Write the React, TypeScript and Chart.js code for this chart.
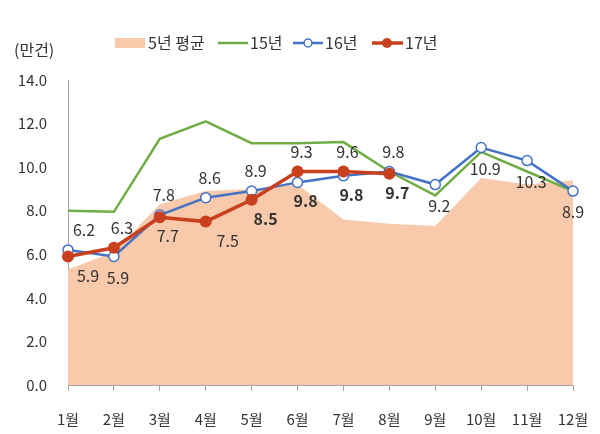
import React, { useRef, useEffect } from 'react';
import Chart from 'chart.js/auto';

const months = ['1월', '2월', '3월', '4월', '5월', '6월', '7월', '8월', '9월', '10월', '11월', '12월'];
const avg5 = [5.3, 6.1, 8.3, 8.9, 9.0, 9.2, 7.6, 7.4, 7.3, 9.5, 9.2, 9.4];
const y15 = [8.0, 7.95, 11.3, 12.1, 11.1, 11.1, 11.15, 9.8, 8.7, 10.7, 9.8, 8.9];
const y16 = [6.2, 5.9, 7.8, 8.6, 8.9, 9.3, 9.6, 9.8, 9.2, 10.9, 10.3, 8.9];
const y17 = [5.9, 6.3, 7.7, 7.5, 8.5, 9.8, 9.8, 9.7, null, null, null, null];
const seriesNames = ['5년 평균', '15년', '16년', '17년'];
const yTicks = [0, 2, 4, 6, 8, 10, 12, 14];
const unitLabel = '(만건)';

// label placement (style only)
const bluePos = ['top', 'bottom', 'top', 'top', 'top', 'top', 'top', 'top', 'bottom', 'bottom', 'bottom', 'bottom'];
const redPos = ['bottom', 'top', 'bottom', 'bottom', 'bottom', 'bottom', 'bottom', 'bottom'];
const redBold = [false, false, false, false, true, true, true, true];

const FONT = '"Noto Sans CJK KR", "Noto Sans", sans-serif';
const TEXT = '#333333';
const AREA = '#F8C9AA';
const GREEN = '#70AD47';
const BLUE = '#4472C4';
const RED = '#C8401E';
const AXIS = '#A6A6A6';

const labelPlugin = {
  id: 'pointLabels',
  afterDatasetsDraw(chart: any) {
    const ctx = chart.ctx;
    const blue = chart.getDatasetMeta(2).data;
    const red = chart.getDatasetMeta(3).data;
    ctx.save();
    ctx.textAlign = 'center';
    ctx.textBaseline = 'middle';
    ctx.fillStyle = TEXT;
    y16.forEach((v, i) => {
      const bp = blue[i];
      const hasRed = y17[i] != null;
      const rp = hasRed ? red[i] : null;
      const top = rp ? Math.min(bp.y, rp.y) : bp.y;
      const bottom = rp ? Math.max(bp.y, rp.y) : bp.y;
      const dx = i === 0 ? 16 : i === 11 ? 0 : 4;
      ctx.font = `16px ${FONT}`;
      const by = bluePos[i] === 'top' ? top - 20 : bottom + 21;
      ctx.fillText(v.toFixed(1), bp.x + dx, by);
      if (rp) {
        ctx.font = `${redBold[i] ? 'bold ' : ''}16px ${FONT}`;
        const ry = redPos[i] === 'top' ? top - 20 : bottom + 19;
        ctx.fillText((y17[i] as number).toFixed(1), rp.x + dx + (i === 3 ? 18 : i === 4 ? 10 : 4), ry);
      }
    });
    ctx.restore();
  },
};

const legendPlugin = {
  id: 'customLegend',
  afterDraw(chart: any) {
    const ctx = chart.ctx;
    const cy = 43;
    ctx.save();
    ctx.font = `16px ${FONT}`;
    ctx.fillStyle = TEXT;
    ctx.textBaseline = 'middle';
    ctx.textAlign = 'left';
    ctx.fillText(unitLabel, 14, 50);

    // 5년 평균
    ctx.fillStyle = AREA;
    ctx.fillRect(115, cy - 5, 30, 10);
    ctx.fillStyle = TEXT;
    ctx.fillText(seriesNames[0], 148, cy);

    // 15년
    ctx.strokeStyle = GREEN;
    ctx.lineWidth = 2.5;
    ctx.beginPath();
    ctx.moveTo(218, cy);
    ctx.lineTo(248, cy);
    ctx.stroke();
    ctx.fillText(seriesNames[1], 250, cy);

    // 16년
    ctx.strokeStyle = BLUE;
    ctx.beginPath();
    ctx.moveTo(293, cy);
    ctx.lineTo(323, cy);
    ctx.stroke();
    ctx.fillStyle = '#ffffff';
    ctx.lineWidth = 1.5;
    ctx.beginPath();
    ctx.arc(308, cy, 4, 0, Math.PI * 2);
    ctx.fill();
    ctx.stroke();
    ctx.fillStyle = TEXT;
    ctx.fillText(seriesNames[2], 325, cy);

    // 17년
    ctx.strokeStyle = RED;
    ctx.lineWidth = 3.5;
    ctx.beginPath();
    ctx.moveTo(372, cy);
    ctx.lineTo(403, cy);
    ctx.stroke();
    ctx.fillStyle = RED;
    ctx.beginPath();
    ctx.arc(387, cy, 5, 0, Math.PI * 2);
    ctx.fill();
    ctx.fillStyle = TEXT;
    ctx.fillText(seriesNames[3], 405, cy);
    ctx.restore();
  },
};

const App: React.FC = () => {
  const chartRef = useRef<HTMLCanvasElement | null>(null);

  useEffect(() => {
    if (!chartRef.current) return;
    Chart.defaults.font.family = FONT;

    const chart = new Chart(chartRef.current, {
      type: 'line',
      data: {
        labels: months,
        datasets: [
          {
            label: seriesNames[0],
            data: avg5,
            fill: 'origin',
            backgroundColor: AREA,
            borderWidth: 0,
            borderColor: AREA,
            pointRadius: 0,
            tension: 0,
            order: 4,
          },
          {
            label: seriesNames[1],
            data: y15,
            fill: false,
            borderColor: GREEN,
            borderWidth: 2.5,
            pointRadius: 0,
            tension: 0,
            order: 3,
          },
          {
            label: seriesNames[2],
            data: y16,
            fill: false,
            borderColor: BLUE,
            borderWidth: 2.5,
            pointRadius: 5,
            pointBackgroundColor: '#ffffff',
            pointBorderColor: BLUE,
            pointBorderWidth: 1.5,
            tension: 0,
            order: 2,
          },
          {
            label: seriesNames[3],
            data: y17,
            fill: false,
            borderColor: RED,
            borderWidth: 3.5,
            pointRadius: 6,
            pointBackgroundColor: RED,
            pointBorderColor: RED,
            pointBorderWidth: 0,
            tension: 0,
            order: 1,
          },
        ],
      },
      options: {
        animation: false,
        responsive: true,
        maintainAspectRatio: false,
        layout: { padding: { top: 80, right: 27, bottom: 0, left: 0 } },
        plugins: {
          legend: { display: false },
          tooltip: { enabled: false },
        },
        scales: {
          x: {
            offset: false,
            afterFit: (scale: any) => {
              scale.height = 49;
              scale.paddingLeft = 0;
              scale.paddingRight = 0;
            },
            grid: {
              drawOnChartArea: false,
              drawTicks: true,
              tickLength: 6,
              color: AXIS,
            },
            border: { color: AXIS, width: 1 },
            ticks: {
              padding: 19,
              color: TEXT,
              font: { size: 15, family: FONT },
              maxRotation: 0,
              autoSkip: false,
            },
          },
          y: {
            min: 0,
            max: 14,
            afterFit: (scale: any) => {
              scale.width = 68;
            },
            afterBuildTicks: (scale: any) => {
              scale.ticks = yTicks.map((v) => ({ value: v }));
            },
            grid: { display: false, drawTicks: false },
            border: { color: AXIS, width: 1 },
            ticks: {
              padding: 21,
              color: TEXT,
              font: { size: 15, family: FONT },
              callback: (v: any) => Number(v).toFixed(1),
            },
          },
        },
      },
      plugins: [labelPlugin, legendPlugin],
    });

    return () => {
      chart.destroy();
    };
  }, []);

  return (
    <div style={{ position: 'absolute', left: 0, top: 0, width: 600, height: 434, background: '#ffffff' }}>
      <canvas ref={chartRef}></canvas>
    </div>
  );
};

export default App;
